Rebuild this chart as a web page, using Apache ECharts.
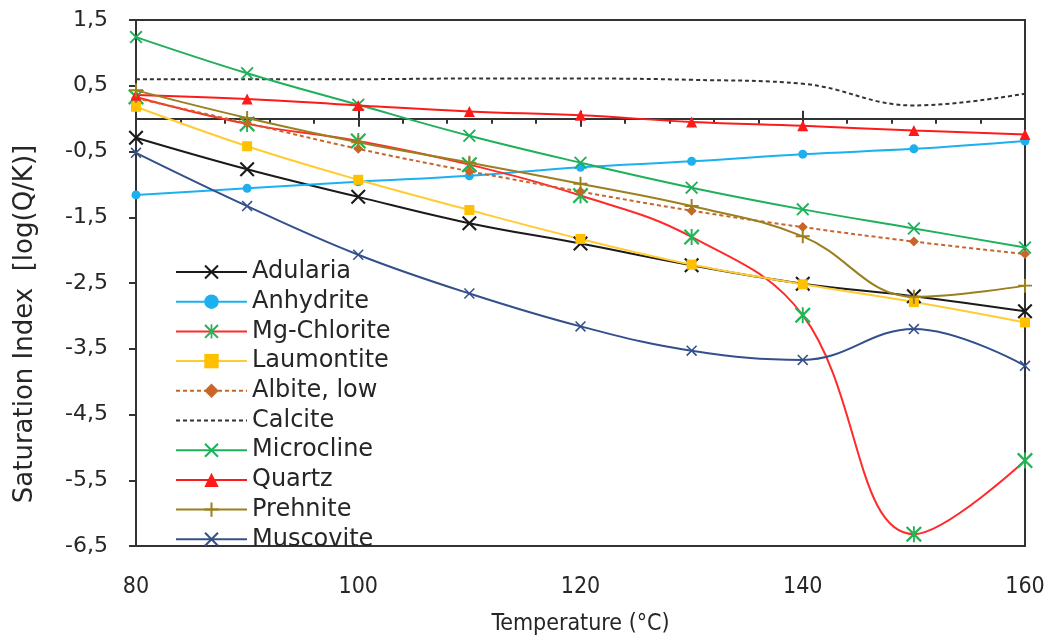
<!DOCTYPE html>
<html>
<head>
<meta charset="utf-8">
<script src="https://cdn.jsdelivr.net/npm/echarts@6/dist/echarts.min.js"></script>
<style>
  html, body { margin: 0; padding: 0; background: #fff; }
  #chart { width: 1056px; height: 641px; }
</style>
</head>
<body>
<div id="chart"></div>
<script>
// Temperatures (°C) at which the saturation indices were computed
const temperatures = [80, 90, 100, 110, 120, 130, 140, 150, 160];

// Saturation index log(Q/K) per mineral
const adularia    = [-0.29, -0.77, -1.19, -1.59, -1.90, -2.23, -2.51, -2.70, -2.93];
const anhydrite   = [-1.16, -1.06, -0.96, -0.87, -0.74, -0.65, -0.54, -0.46, -0.34];
const mgChlorite  = [0.33, -0.08, -0.34, -0.70, -1.17, -1.80, -2.99, -6.32, -5.20];
const laumontite  = [0.18, -0.42, -0.93, -1.39, -1.83, -2.22, -2.52, -2.79, -3.10];
const albiteLow   = [0.31, -0.07, -0.46, -0.80, -1.11, -1.40, -1.65, -1.87, -2.06];
const calcite     = [0.60, 0.60, 0.60, 0.61, 0.61, 0.59, 0.53, 0.20, 0.38];
const microcline  = [1.24, 0.69, 0.21, -0.26, -0.67, -1.05, -1.38, -1.67, -1.96];
const quartz      = [0.36, 0.30, 0.20, 0.11, 0.05, -0.05, -0.11, -0.18, -0.24];
const prehnite    = [0.43, 0.01, -0.36, -0.67, -0.99, -1.33, -1.79, -2.71, -2.54];
const muscovite   = [-0.52, -1.33, -2.07, -2.66, -3.16, -3.53, -3.67, -3.20, -3.76];

// Axis ticks
const xTicks = [80, 100, 120, 140, 160];
const yTicks = [-6.5, -5.5, -4.5, -3.5, -2.5, -1.5, -0.5, 0.5, 1.5];

// Marker shapes drawn as filled paths
const CROSS = 'path://M0,1L1,0L10,9L9,10ZM9,0L10,1L1,10L0,9Z';
const STAR = 'path://M0,1L1,0L10,9L9,10ZM9,0L10,1L1,10L0,9ZM4.4,0L5.6,0L5.6,10L4.4,10Z';
const PLUS = 'path://M4.3,0L5.7,0L5.7,10L4.3,10ZM0,4.3L10,4.3L10,5.7L0,5.7Z';

const SMOOTH = 0.4;
const pairs = vals => temperatures.map((t, i) => [t, vals[i]]);

function lineSeries(name, vals, opts) {
  return {
    name: name,
    type: 'line',
    xAxisIndex: 0,
    data: pairs(vals),
    smooth: SMOOTH,
    symbol: opts.symbol,
    symbolSize: opts.size,
    showSymbol: opts.noMarker ? false : true,
    lineStyle: { color: opts.line, width: opts.width || 2, type: opts.dash || 'solid' },
    itemStyle: { color: opts.marker || opts.line },
    emphasis: { disabled: true },
    z: 3
  };
}

const series = [
  lineSeries('Adularia', adularia, { line: '#1a1a1a', symbol: CROSS, size: 15 }),
  lineSeries('Anhydrite', anhydrite, { line: '#1cb0ef', symbol: 'circle', size: 9 }),
  lineSeries('Mg-Chlorite', mgChlorite, { line: '#ff2a2a', marker: '#22b455', symbol: STAR, size: 16 }),
  lineSeries('Laumontite', laumontite, { line: '#ffcc33', marker: '#ffc000', symbol: 'rect', size: 10 }),
  lineSeries('Albite, low', albiteLow, { line: '#c8652a', symbol: 'diamond', size: 10, dash: [4, 3] }),
  lineSeries('Calcite', calcite, { line: '#333333', marker: 'rgba(0,0,0,0)', symbol: 'circle', size: 1, dash: [4, 3], noMarker: true }),
  lineSeries('Microcline', microcline, { line: '#1fb05a', symbol: CROSS, size: 13 }),
  lineSeries('Quartz', quartz, { line: '#ff1a1a', symbol: 'triangle', size: 11 }),
  lineSeries('Prehnite', prehnite, { line: '#9c7f1e', symbol: PLUS, size: 14 }),
  lineSeries('Muscovite', muscovite, { line: '#34508c', symbol: CROSS, size: 11 })
];

const chart = echarts.init(document.getElementById('chart'), null, { renderer: 'canvas' });

const axisColor = '#333333';
const textColor = '#262626';
const narrowFont = "'Liberation Sans Narrow', 'DejaVu Sans Condensed', sans-serif";

chart.setOption({
  animation: false,
  backgroundColor: '#ffffff',
  grid: {
    left: 136, right: 31, top: 20, bottom: 91,
    show: true, borderColor: axisColor, borderWidth: 2, backgroundColor: 'transparent'
  },
  legend: {
    orient: 'vertical',
    left: 170, top: 255,
    itemWidth: 71, itemHeight: 18, itemGap: 5.7,
    textStyle: { fontFamily: 'DejaVu Sans', fontSize: 24, color: textColor, lineHeight: 24 },
    data: series.map(s => s.name)
  },
  graphic: [{
    // y-axis title
    type: 'text',
    x: 25, y: 324,
    rotation: Math.PI / 2,
    style: {
      text: 'Saturation Index  [log(Q/K)]',
      fill: textColor,
      font: "26px 'DejaVu Sans'",
      align: 'center',
      verticalAlign: 'middle'
    }
  }],
  xAxis: [
    {
      // bottom axis carrying the labels and title
      type: 'value', min: 80, max: 160, interval: 20,
      position: 'bottom',
      axisLine: { onZero: false, lineStyle: { color: axisColor, width: 2 } },
      axisTick: { show: false },
      splitLine: { show: false },
      axisLabel: {
        margin: 30, color: textColor, fontSize: 23, fontFamily: narrowFont,
        customValues: xTicks
      },
      name: 'Temperature (°C)', nameLocation: 'middle', nameGap: 67,
      nameTextStyle: { color: textColor, fontSize: 23, fontFamily: narrowFont }
    },
    {
      // axis line through y = 0, ticks hanging below
      type: 'value', min: 80, max: 160, interval: 20,
      position: 'bottom',
      axisLine: { onZero: true, onZeroAxisIndex: 0, lineStyle: { color: axisColor, width: 2 } },
      axisTick: { show: true, inside: false, length: 8, lineStyle: { color: axisColor, width: 2 } },
      minorTick: { show: true, splitNumber: 5, length: 5, lineStyle: { color: axisColor, width: 2 } },
      axisLabel: { show: false },
      splitLine: { show: false }
    },
    {
      // upper half of the major ticks on the zero line
      type: 'value', min: 80, max: 160, interval: 20,
      position: 'bottom',
      axisLine: { show: false, onZero: true, onZeroAxisIndex: 0 },
      axisTick: { show: true, inside: true, length: 8, lineStyle: { color: axisColor, width: 2 } },
      axisLabel: { show: false },
      splitLine: { show: false }
    }
  ],
  yAxis: {
    type: 'value', min: -6.5, max: 1.5,
    axisLine: { show: true, onZero: false, lineStyle: { color: axisColor, width: 2 } },
    axisTick: { show: true, length: 7, customValues: yTicks, lineStyle: { color: axisColor, width: 2 } },
    splitLine: { show: false },
    axisLabel: {
      margin: 28, color: textColor, fontSize: 22, fontFamily: 'DejaVu Sans',
      customValues: yTicks,
      formatter: v => v.toFixed(1).replace('.', ',')
    }
  },
  series: series
});
</script>
</body>
</html>
